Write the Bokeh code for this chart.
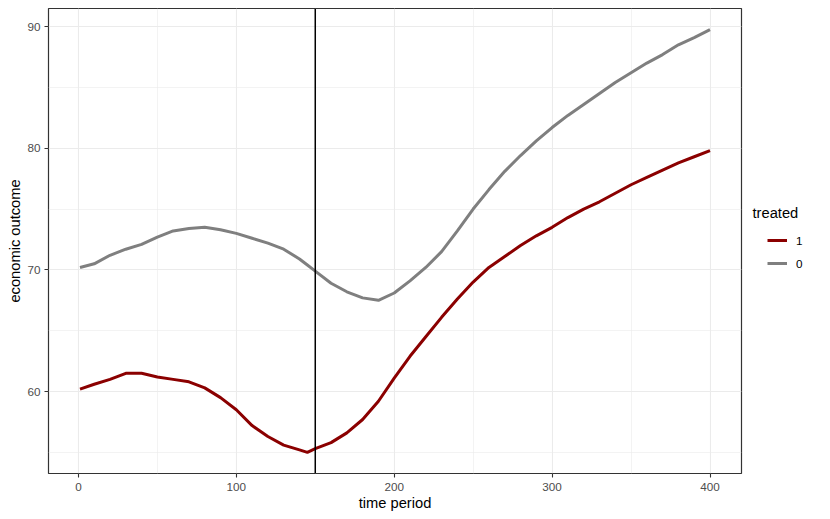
from bokeh.plotting import figure
from bokeh.layouts import row
from bokeh.models import Span, Legend, LegendItem, FixedTicker, Range1d, Label
from bokeh.embed import file_html
from bokeh.resources import INLINE

# ---- data ----
periods = [1, 10, 20, 30, 40, 50, 60, 70, 80, 90, 100, 110, 120, 130, 140, 145, 150,
           160, 170, 180, 190, 200, 210, 220, 230, 240, 250, 260, 270, 280, 290, 300,
           310, 320, 330, 340, 350, 360, 370, 380, 390, 400]
treated_1 = [60.2, 60.6, 61.0, 61.5, 61.5, 61.2, 61.0, 60.8, 60.3, 59.5, 58.5, 57.2, 56.3,
             55.6, 55.2, 55.0, 55.3, 55.8, 56.6, 57.7, 59.2, 61.1, 62.9, 64.5, 66.1, 67.6,
             69.0, 70.2, 71.1, 72.0, 72.8, 73.5, 74.3, 75.0, 75.6, 76.3, 77.0, 77.6, 78.2,
             78.8, 79.3, 79.8]
treated_0 = [70.2, 70.5, 71.2, 71.7, 72.1, 72.7, 73.2, 73.4, 73.5, 73.3, 73.0, 72.6, 72.2,
             71.7, 70.9, 70.4, 69.9, 68.9, 68.2, 67.7, 67.5, 68.1, 69.1, 70.2, 71.5, 73.2,
             75.0, 76.6, 78.1, 79.4, 80.6, 81.7, 82.7, 83.6, 84.5, 85.4, 86.2, 87.0, 87.7,
             88.5, 89.1, 89.75]
intervention_period = 150
x_ticks = [0, 100, 200, 300, 400]
x_minor = [50, 150, 250, 350]
y_ticks = [60, 70, 80, 90]
y_minor = [55, 65, 75, 85]
legend_title = "treated"
legend_labels = ["1", "0"]
colors = ["#8B0000", "#7F7F7F"]

FONT = "Liberation Sans"
FRAME_W, FRAME_H = 693, 465
TOP, BOTTOM = 8, 46
FRAME_BOTTOM = TOP + FRAME_H   # page y of the panel's bottom edge

xmin, xmax = min(periods), max(periods)
allv = treated_1 + treated_0
ymin, ymax = min(allv), max(allv)
xpad = (xmax - xmin) * 0.05
ypad = (ymax - ymin) * 0.05

# ---------------- main panel ----------------
p = figure(frame_width=FRAME_W, frame_height=FRAME_H, output_backend="svg",
           toolbar_location=None,
           x_range=Range1d(xmin - xpad, xmax + xpad),
           y_range=Range1d(ymin - ypad, ymax + ypad),
           min_border_left=48, min_border_right=5, min_border_top=TOP,
           min_border_bottom=BOTTOM)

p.background_fill_color = "white"
p.border_fill_color = "white"
p.outline_line_color = "#333333"
p.outline_line_width = 1.2

p.xaxis.ticker = FixedTicker(ticks=x_ticks, minor_ticks=x_minor)
p.yaxis.ticker = FixedTicker(ticks=y_ticks, minor_ticks=y_minor)

for g in (p.xgrid, p.ygrid):
    g.grid_line_color = "#EBEBEB"
    g.grid_line_width = 1.1
    g.minor_grid_line_color = "#EBEBEB"
    g.minor_grid_line_width = 0.6

for ax in (p.xaxis, p.yaxis):
    ax.axis_line_color = None
    ax.major_tick_line_color = "#333333"
    ax.major_tick_line_width = 1.1
    ax.major_tick_out = 4
    ax.major_tick_in = 0
    ax.minor_tick_line_color = None
    ax.major_label_text_font = FONT
    ax.major_label_text_font_size = "11.7px"
    ax.major_label_text_color = "#4D4D4D"
    ax.axis_label_text_font = FONT
    ax.axis_label_text_font_size = "14.7px"
    ax.axis_label_text_font_style = "normal"
    ax.axis_label_text_color = "black"

p.xaxis.major_label_standoff = 5
p.xaxis.axis_label_standoff = 1
p.yaxis.major_label_standoff = 4
p.yaxis.axis_label_standoff = 1

p.xaxis.axis_label = "time period"
p.yaxis.axis_label = "economic outcome"

p.line(periods, treated_1, line_color=colors[0], line_width=3)
p.line(periods, treated_0, line_color=colors[1], line_width=3)

p.add_layout(Span(location=intervention_period, dimension="height",
                  line_color="black", line_width=1.5))

# ---------------- legend area ----------------
LEG_W, LEG_H = 80, TOP + FRAME_H + BOTTOM
lg = figure(width=LEG_W, height=LEG_H, output_backend="svg", toolbar_location=None,
            x_axis_type=None, y_axis_type=None,
            x_range=Range1d(-20, -10), y_range=Range1d(0, 1),
            min_border_left=0, min_border_right=0, min_border_top=TOP,
            min_border_bottom=BOTTOM)
lg.outline_line_color = None
lg.background_fill_color = "white"
lg.border_fill_color = "white"

# key renderers (same data, outside this area's visible range; only used for the key)
k1 = lg.line(periods, treated_1, line_color=colors[0], line_width=3)
k0 = lg.line(periods, treated_0, line_color=colors[1], line_width=3)

legend = Legend(items=[LegendItem(label=legend_labels[0], renderers=[k1]),
                       LegendItem(label=legend_labels[1], renderers=[k0])],
                location=(21, FRAME_BOTTOM - 273), orientation="vertical")
legend.label_text_font = FONT
legend.label_text_font_size = "11.7px"
legend.label_text_color = "black"
legend.glyph_width = 20
legend.glyph_height = 20
legend.label_standoff = 9
legend.spacing = 3
legend.padding = 0
legend.margin = 0
legend.border_line_color = None
legend.background_fill_alpha = 0
lg.add_layout(legend)

lg.add_layout(Label(x=6, y=FRAME_BOTTOM - 212, x_units="screen", y_units="screen",
                    text=legend_title, text_font=FONT, text_font_size="14.7px",
                    text_color="black", text_baseline="middle", text_align="left"))

layout = row(p, lg)
open("out.html", "w").write(file_html(layout, INLINE))
